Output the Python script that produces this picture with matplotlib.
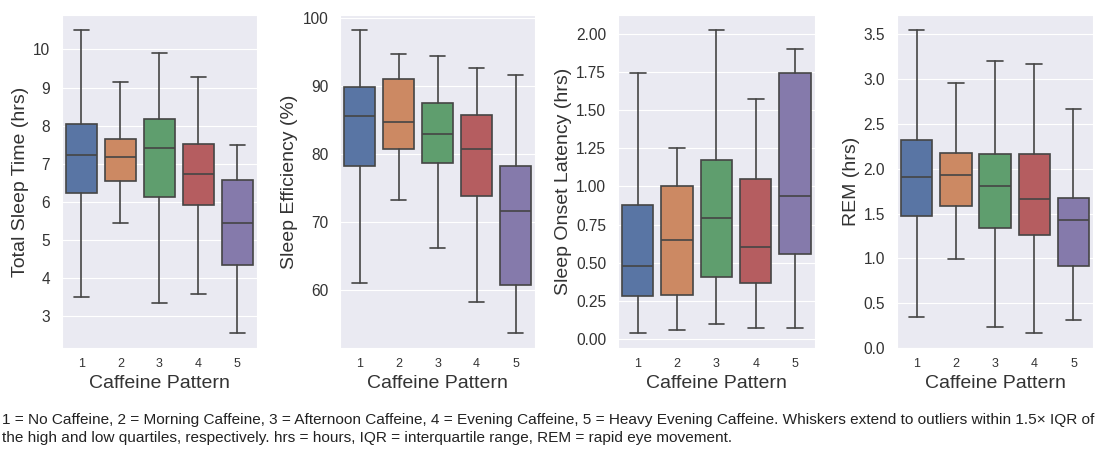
import numpy as np
import matplotlib.pyplot as plt
import seaborn as sns

patterns = ["1", "2", "3", "4", "5"]

# Total sleep time (hrs)
tst_lo = [3.50, 5.45, 3.33, 3.57, 2.55]
tst_q1 = [6.23, 6.54, 6.12, 5.92, 4.35]
tst_med = [7.24, 7.18, 7.41, 6.73, 5.43]
tst_q3 = [8.04, 7.65, 8.17, 7.52, 6.56]
tst_hi = [10.50, 9.14, 9.91, 9.28, 7.50]

# Sleep efficiency (%)
se_lo = [61.1, 73.2, 66.2, 58.2, 53.7]
se_q1 = [78.2, 80.8, 78.7, 73.9, 60.8]
se_med = [85.6, 84.7, 82.9, 80.8, 71.7]
se_q3 = [89.9, 91.0, 87.5, 85.8, 78.3]
se_hi = [98.2, 94.7, 94.5, 92.7, 91.7]

# Sleep onset latency (hrs)
sol_lo = [0.04, 0.06, 0.10, 0.07, 0.07]
sol_q1 = [0.28, 0.29, 0.41, 0.37, 0.56]
sol_med = [0.48, 0.65, 0.79, 0.60, 0.94]
sol_q3 = [0.88, 1.00, 1.17, 1.05, 1.74]
sol_hi = [1.74, 1.25, 2.02, 1.57, 1.90]

# REM (hrs)
rem_lo = [0.35, 0.99, 0.24, 0.17, 0.31]
rem_q1 = [1.47, 1.58, 1.34, 1.26, 0.92]
rem_med = [1.91, 1.93, 1.81, 1.66, 1.43]
rem_q3 = [2.32, 2.18, 2.16, 2.16, 1.67]
rem_hi = [3.54, 2.95, 3.20, 3.17, 2.66]

sns.set_style("darkgrid")
plt.rcParams['font.family'] = ['Liberation Sans', 'DejaVu Sans']

colors = [sns.desaturate(c, 0.75) for c in sns.color_palette("deep", 5)]
gray = "#454545"
txt = "#333333"

panels = [
    ("Total Sleep Time (hrs)", tst_lo, tst_q1, tst_med, tst_q3, tst_hi,
     np.arange(3, 11), "{:.0f}", [0.056, 0.228, 0.1765, 0.738]),
    ("Sleep Efficiency (%)", se_lo, se_q1, se_med, se_q3, se_hi,
     np.arange(60, 101, 10), "{:.0f}", [0.3077, 0.228, 0.1765, 0.738]),
    ("Sleep Onset Latency (hrs)", sol_lo, sol_q1, sol_med, sol_q3, sol_hi,
     np.arange(0, 2.01, 0.25), "{:.2f}", [0.5593, 0.228, 0.178, 0.738]),
    ("REM (hrs)", rem_lo, rem_q1, rem_med, rem_q3, rem_hi,
     np.arange(0, 3.51, 0.5), "{:.1f}", [0.8118, 0.228, 0.1774, 0.738]),
]

fig = plt.figure(figsize=(11.05, 4.51), dpi=100)

for label, lo, q1, med, q3, hi, ticks, fmt, rect in panels:
    ax = fig.add_axes(rect)
    stats = [dict(whislo=lo[i], q1=q1[i], med=med[i], q3=q3[i], whishi=hi[i],
                  label=patterns[i]) for i in range(len(patterns))]
    bp = ax.bxp(stats, positions=range(len(patterns)), widths=0.8,
                patch_artist=True, showfliers=False,
                boxprops=dict(edgecolor=gray, linewidth=1.2),
                whiskerprops=dict(color=gray, linewidth=1.2),
                capprops=dict(color=gray, linewidth=1.2),
                medianprops=dict(color=gray, linewidth=1.2))
    for patch, c in zip(bp['boxes'], colors):
        patch.set_facecolor(c)
    ax.set_xlim(-0.5, len(patterns) - 0.5)
    ax.set_yticks(ticks)
    ax.set_yticklabels([fmt.format(t) for t in ticks], fontsize=11.2, color=txt)
    ax.tick_params(axis='x', labelsize=9, labelcolor=txt)
    ax.tick_params(axis='y', pad=5)
    ax.set_ylabel(label, fontsize=14, color=txt, labelpad=3)
    ax.set_xlabel("Caffeine Pattern", fontsize=14, color=txt, labelpad=4)
    ax.grid(axis='x', visible=False)

caption1 = ("1 = No Caffeine, 2 = Morning Caffeine, 3 = Afternoon Caffeine, 4 = Evening Caffeine, "
            "5 = Heavy Evening Caffeine. Whiskers extend to outliers within 1.5\u00d7 IQR of")
caption2 = ("the high and low quartiles, respectively. hrs = hours, IQR = interquartile range, "
            "REM = rapid eye movement.")
fig.text(0.002, 1 - 420 / 451, caption1, fontsize=11.1, va='center', ha='left', color="#222222")
fig.text(0.002, 1 - 438 / 451, caption2, fontsize=11.1, va='center', ha='left', color="#222222")

fig.savefig("out.png", dpi=100)
